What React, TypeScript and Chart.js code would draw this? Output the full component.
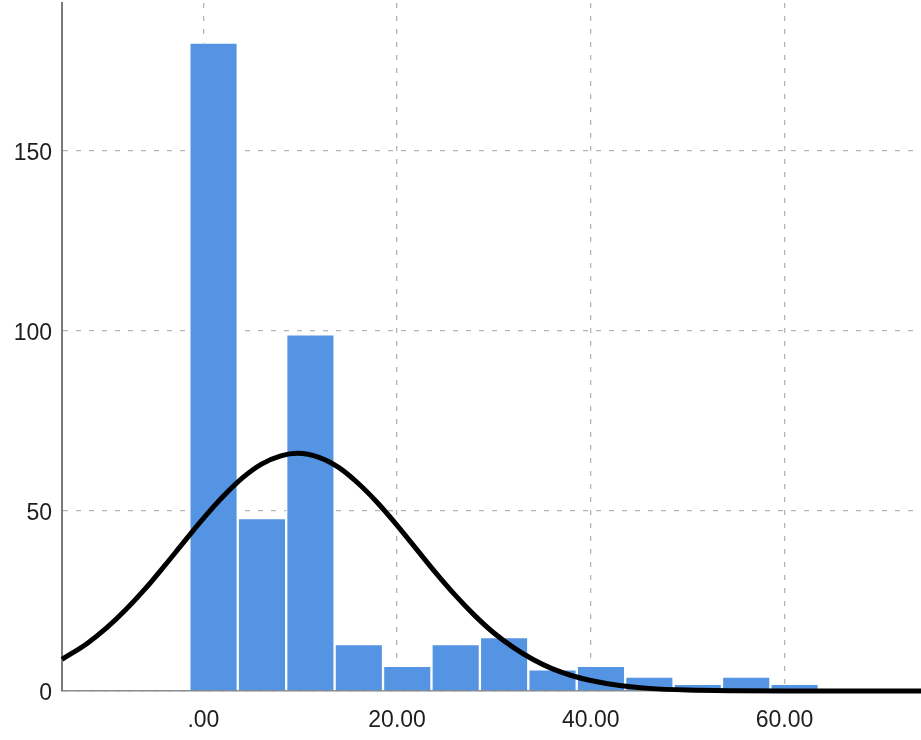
import React, { useEffect, useRef } from "react";
import { Chart, registerables } from "chart.js";

Chart.register(...registerables);

// Histogram bins (bin centres) and their counts
const binCenters = [1.05, 6.05, 11.05, 16.05, 21.05, 26.05, 31.05, 36.05, 41.05, 46.05, 51.05, 56.05, 61.05];
const binCounts = [180, 48, 99, 13, 7, 13, 15, 6, 7, 4, 2, 4, 2];

// Normal curve
const curveX = [-14.6, -12, -10, -8, -6, -4, -2, 0, 2, 4, 6, 8, 9.7, 12, 14, 16, 18, 20, 22, 24, 26, 28, 30, 32, 34, 36, 38, 40, 43, 46, 50, 55, 60, 74.1];
const curveY = [8.8, 13.2, 17.5, 22.6, 28.4, 34.8, 41.4, 47.9, 53.9, 59.1, 63, 65.3, 66, 64.8, 62, 57.6, 52.2, 46, 39.4, 32.8, 26.6, 21, 16.1, 12.1, 8.8, 6.2, 4.3, 2.9, 1.5, 0.73, 0.26, 0.06, 0, 0];

// Axis ticks
const xTickValues = [0, 20, 40, 60];
const xTickLabels = [".00", "20.00", "40.00", "60.00"];
const yTickValues = [0, 50, 100, 150];
const yTickLabels = ["0", "50", "100", "150"];

const FONT = "'Liberation Sans', Arial, sans-serif";

const zeroPad = (s: any) => {
  s.paddingTop = 0;
  s.paddingBottom = 0;
  s.paddingLeft = 0;
  s.paddingRight = 0;
};

export default function App() {
  const canvasRef = useRef<HTMLCanvasElement | null>(null);

  useEffect(() => {
    if (!canvasRef.current) return;
    const chart = new Chart(canvasRef.current, {
      type: "bar",
      data: {
        datasets: [
          {
            type: "line",
            data: curveX.map((x, i) => ({ x, y: curveY[i] })),
            borderColor: "#000000",
            borderWidth: 5,
            pointRadius: 0,
            fill: false,
            cubicInterpolationMode: "monotone",
            clip: false as any,
            order: 0,
          } as any,
          {
            type: "bar",
            data: binCenters.map((x, i) => ({ x, y: binCounts[i] })),
            backgroundColor: "#5494e3",
            borderColor: "rgba(255,255,255,0.85)",
            borderWidth: 1.5,
            borderSkipped: "start",
            barPercentage: 1,
            categoryPercentage: 1,
            order: 1,
          } as any,
        ],
      },
      options: {
        animation: false,
        responsive: true,
        maintainAspectRatio: false,
        layout: { padding: { top: 3, left: 0, right: 0, bottom: 0 } },
        plugins: { legend: { display: false }, tooltip: { enabled: false } },
        scales: {
          x: {
            type: "linear",
            min: -14.6,
            max: 74.1,
            offset: false,
            afterBuildTicks: (s: any) => {
              s.ticks = xTickValues.map((v) => ({ value: v }));
            },
            afterFit: (s: any) => {
              s.height = 49;
              zeroPad(s);
            },
            grid: {
              color: "#b4b4b4",
              lineWidth: 1.3,
              drawTicks: false,
              offset: false,
            },
            border: { display: true, color: "#8a8a8a", width: 1.5, dash: [5, 8] },
            ticks: {
              padding: 16,
              color: "#1e1e1e",
              font: { family: FONT, size: 23 },
              maxRotation: 0,
              autoSkip: false,
              callback: (_v: any, i: number) => xTickLabels[i],
            },
          },
          y: {
            type: "linear",
            min: 0,
            max: 191,
            afterBuildTicks: (s: any) => {
              s.ticks = yTickValues.map((v) => ({ value: v }));
            },
            afterFit: (s: any) => {
              s.width = 62;
              zeroPad(s);
            },
            grid: {
              color: "#b4b4b4",
              lineWidth: 1.3,
              drawTicks: false,
            },
            border: { display: true, color: "#7a7a7a", width: 2, dash: [5, 8] },
            ticks: {
              padding: 10,
              labelOffset: 3,
              color: "#1e1e1e",
              font: { family: FONT, size: 23 },
              autoSkip: false,
              callback: (_v: any, i: number) => yTickLabels[i],
            },
          },
        },
      } as any,
    });
    return () => chart.destroy();
  }, []);

  return (
    <div style={{ position: "fixed", left: 0, top: 0, width: 921, height: 740, background: "#fff" }}>
      <canvas ref={canvasRef} />
    </div>
  );
}
